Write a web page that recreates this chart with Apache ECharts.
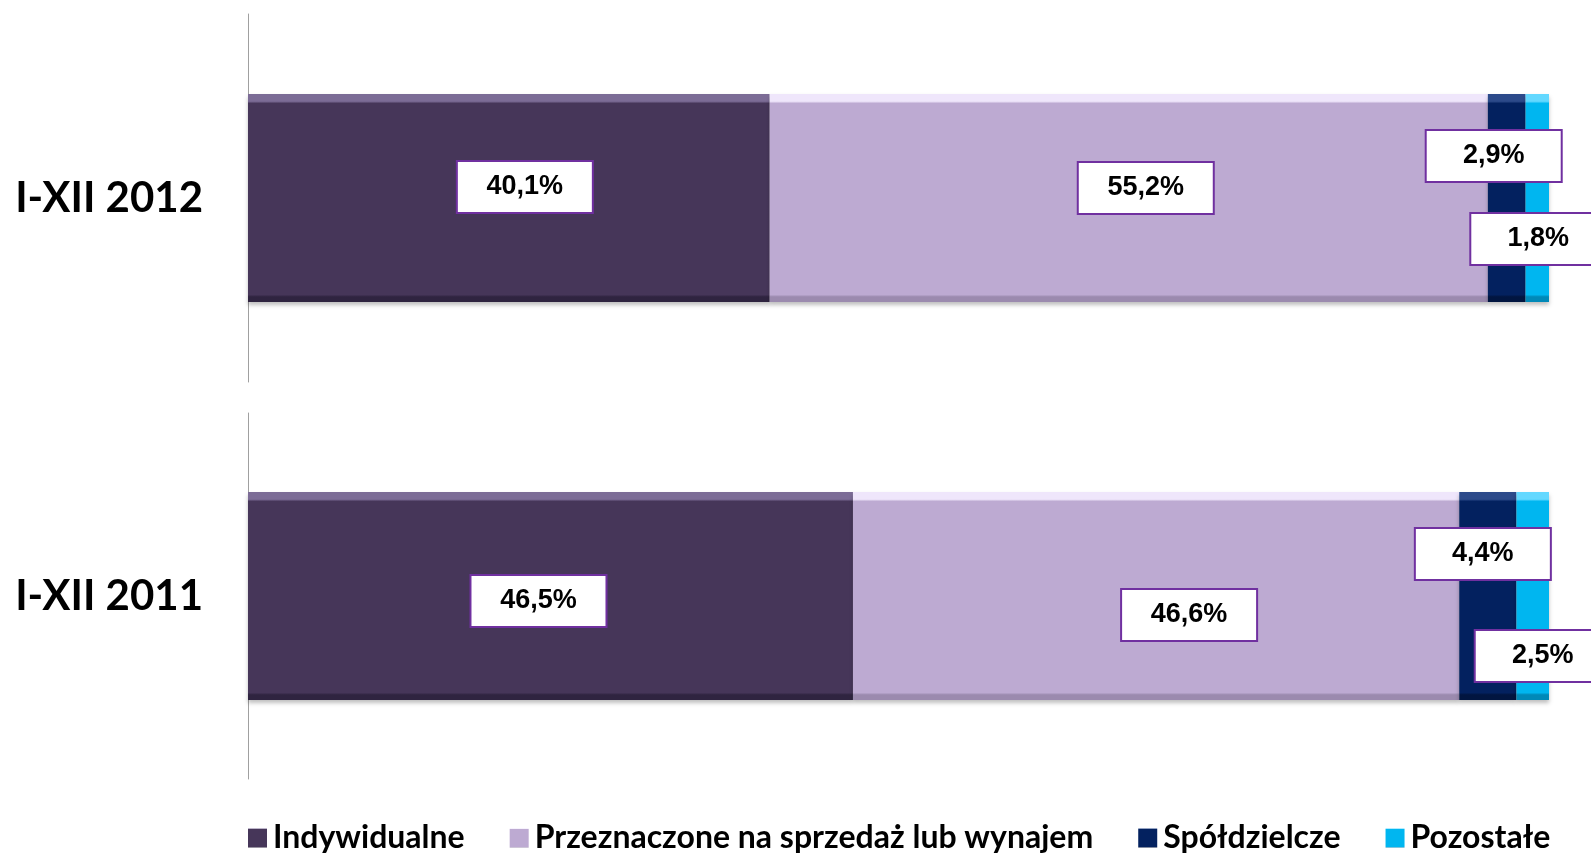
<!DOCTYPE html>
<html>
<head>
<meta charset="utf-8">
<script src="https://cdn.jsdelivr.net/npm/echarts@6/dist/echarts.min.js"></script>
<style>
html,body{margin:0;padding:0;background:#fff;}
#main{width:1591px;height:853px;}
</style>
</head>
<body>
<div id="main"></div>
<script>
// dane
var lata = ['I-XII 2012', 'I-XII 2011'];
var nazwy = ['Indywidualne', 'Przeznaczone na sprzedaż lub wynajem', 'Spółdzielcze', 'Pozostałe'];
var indywidualne = [40.1, 46.5];
var sprzedaz = [55.2, 46.6];
var spoldzielcze = [2.9, 4.4];
var pozostale = [1.8, 2.5];

// przesunięcia etykiet [rok][seria]
var przesuniecia = [
	[[16, -11], [17, -10], [-13, -42], [1, 41]],
	[[-12, 5], [33, 19], [-5, -42], [10, 60]]
];

// kolory: jasny brzeg, środek, ciemny brzeg
var kolory = [
	['#7c6c96', '#463659', '#2f2440'],
	['#efe6fb', '#bdaad2', '#9b8aae'],
	['#2c4a8a', '#03215f', '#011540'],
	['#63d8ff', '#00b6f0', '#0089b8']
];

function gradient(k){
	return new echarts.graphic.LinearGradient(0, 0, 0, 1, [
		{offset: 0, color: k[0]},
		{offset: 0.035, color: k[0]},
		{offset: 0.045, color: k[1]},
		{offset: 0.965, color: k[1]},
		{offset: 0.975, color: k[2]},
		{offset: 1, color: k[2]}
	]);
}

var wartosci = [indywidualne, sprzedaz, spoldzielcze, pozostale];
var series = [];
for (var g = 0; g < 2; g++) {
	for (var s = 0; s < 4; s++) {
		series.push({
			name: nazwy[s],
			type: 'bar',
			stack: 'r' + g,
			xAxisIndex: g,
			yAxisIndex: g,
			barWidth: 208,
			itemStyle: {
				color: gradient(kolory[s]),
				shadowColor: 'rgba(0,0,0,0.25)',
				shadowBlur: 4,
				shadowOffsetY: 3
			},
			label: {
				show: true,
				position: 'inside',
				offset: przesuniecia[g][s],
				formatter: function(p){ return p.value.toFixed(1).replace('.', ',') + '%'; },
				color: '#000',
				fontFamily: '"Liberation Sans", Arial, sans-serif',
				fontWeight: 'bold',
				fontSize: 27,
				backgroundColor: '#fff',
				borderColor: '#7030a0',
				borderWidth: 2,
				width: 76,
				height: 26,
				lineHeight: 26,
				align: 'center',
				padding: [12, 29]
			},
			data: [wartosci[s][g]]
		});
	}
}

var yAx = function(i){
	return {
		type: 'category',
		gridIndex: i,
		data: [lata[i]],
		axisLine: {show: true, lineStyle: {color: '#a0a0a0', width: 1}},
		axisTick: {show: false},
		axisLabel: {
			margin: 45,
			color: '#000',
			fontFamily: 'Lato, Calibri, sans-serif',
			fontWeight: 'bold',
			fontSize: 42
		}
	};
};
var xAx = function(i){
	return {
		type: 'value',
		gridIndex: i,
		min: 0,
		max: 100,
		show: false
	};
};

var option = {
	animation: false,
	grid: [
		{left: 248, right: 42, top: 14, height: 368},
		{left: 248, right: 42, top: 413, height: 366}
	],
	xAxis: [xAx(0), xAx(1)],
	yAxis: [yAx(0), yAx(1)],
	legend: {
		data: nazwy,
		left: 243,
		top: 817,
		icon: 'rect',
		itemWidth: 19,
		itemHeight: 19,
		itemGap: 45,
		textStyle: {
			color: '#000',
			fontFamily: 'Lato, Calibri, sans-serif',
			fontWeight: 'bold',
			fontSize: 32,
			padding: [0, 0, 0, 1]
		}
	},
	series: series
};

var chart = echarts.init(document.getElementById('main'));
chart.setOption(option);
</script>
</body>
</html>
